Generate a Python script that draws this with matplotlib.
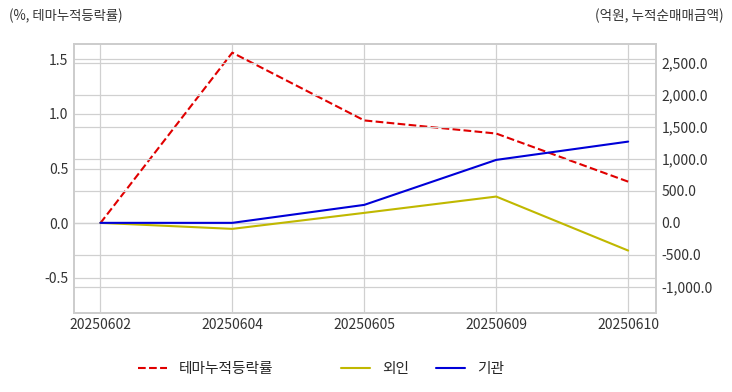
import matplotlib
matplotlib.use('Agg')
import matplotlib.pyplot as plt
import seaborn as sns
from matplotlib.ticker import FuncFormatter

sns.set_style('whitegrid')
plt.rcParams['font.family'] = ['Noto Sans CJK KR', 'DejaVu Sans']
plt.rcParams['axes.unicode_minus'] = False

dates = ['20250602', '20250604', '20250605', '20250609', '20250610']
theme = [0.0, 1.56, 0.94, 0.82, 0.38]
foreign = [0.0, -94, 156, 411, -433]
inst = [0.0, 0.0, 281, 984, 1270]

fig, ax1 = plt.subplots(figsize=(7.32, 3.92), dpi=100)
fig.subplots_adjust(left=0.101, right=0.896, top=0.888, bottom=0.202)
ax2 = ax1.twinx()

x = range(len(dates))
l1, = ax1.plot(x, theme, color='#e00000', linestyle='--', linewidth=1.5, label='테마누적등락률')
l2, = ax2.plot(x, foreign, color='#c0b800', linewidth=1.5, label='외인')
l3, = ax2.plot(x, inst, color='#0000d8', linewidth=1.5, label='기관')

ax1.set_xlim(-0.2, 4.21)
ax1.set_ylim(-0.82, 1.64)
ax2.set_ylim(-1406, 2797)
ax1.set_xticks(list(x))
ax1.set_xticklabels(dates)
ax1.set_yticks([-0.5, 0.0, 0.5, 1.0, 1.5])
ax2.set_yticks([-1000, -500, 0, 500, 1000, 1500, 2000, 2500])
ax1.yaxis.set_major_formatter(FuncFormatter(lambda v, p: '{:.1f}'.format(v)))
ax2.yaxis.set_major_formatter(FuncFormatter(lambda v, p: '{:,.1f}'.format(v)))

for ax in (ax1, ax2):
    ax.grid(True, color='#d0d0d0', linewidth=0.9)
    ax.tick_params(labelsize=10, labelcolor='#333333', length=0, pad=4)
    for s in ax.spines.values():
        s.set_color('#cccccc')
        s.set_linewidth(1.2)
ax2.grid(True, axis='y')

fig.text(0.012, 0.96, '(%, 테마누적등락률)', fontsize=9.6, color='#333333', va='center')
fig.text(0.989, 0.96, '(억원, 누적순매매금액)', fontsize=9.8, color='#333333', va='center', ha='right')

fig.legend(handles=[l1], loc='center', bbox_to_anchor=(0.281, 0.058), frameon=False, fontsize=10.6)
fig.legend(handles=[l2, l3], loc='center', bbox_to_anchor=(0.577, 0.058), ncol=2, frameon=False,
           fontsize=10.6, columnspacing=1.8)

plt.savefig('out.png', dpi=100)
